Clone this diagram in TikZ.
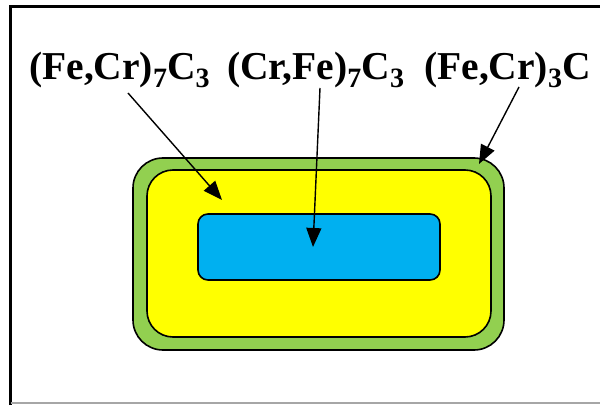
\documentclass[tikz,border=0pt]{standalone}
\usepackage{fontspec}
\setmainfont{Liberation Serif}
\usetikzlibrary{arrows.meta}
\definecolor{shellgreen}{RGB}{146,208,80}
\definecolor{coreblue}{RGB}{0,176,240}
\definecolor{midyellow}{RGB}{255,255,0}
\newcommand{\subidx}[1]{\raisebox{-8pt}{\fontsize{28}{28}\selectfont #1}}

\begin{document}
\begin{tikzpicture}[x=1pt,y=1pt,
		lbl/.style={anchor=base west,inner sep=0pt,font=\fontsize{39.5}{42}\selectfont\bfseries},
		arr/.style={-{Triangle[length=19pt,width=15pt]},line width=1.4pt},
		phase/.style={draw=black,line width=1.6pt}]
			\useasboundingbox (0,0) rectangle (600,405);
			% frame
			\fill[white] (0,0) rectangle (600,405);
			\draw[line width=3.2pt] (10.5,0) -- (10.5,398.5) -- (600,398.5);
			\draw[gray!70,line width=1.5pt] (10.5,2) -- (600,2);
			% the particle: shell, intermediate layer, core
			\filldraw[phase,fill=shellgreen,rounded corners=30] (133,55) rectangle (504,247);
			\filldraw[phase,fill=midyellow,rounded corners=26] (147,68) rectangle (491,235);
			\filldraw[phase,fill=coreblue,rounded corners=10] (198,125) rectangle (440,191);
			% labels
			\node[lbl] (mA) at (29,325) {(Fe,Cr)\subidx{7}C\subidx{3}};
			\node[lbl] (mB) at (227,325) {(Cr,Fe)\subidx{7}C\subidx{3}};
			\node[lbl] (mC) at (424,325) {(Fe,Cr)\subidx{3}C};
			% arrow ends
			\coordinate (sA) at (128,312);
			\coordinate (tA) at (222,205);
			\coordinate (sB) at (320,317);
			\coordinate (tB) at (313,158);
			\coordinate (sC) at (519,318);
			\coordinate (tC) at (479,241);
			\draw[arr] (sA) -- (tA);
			\draw[arr] (sB) -- (tB);
			\draw[arr] (sC) -- (tC);
		\end{tikzpicture}
\end{document}
